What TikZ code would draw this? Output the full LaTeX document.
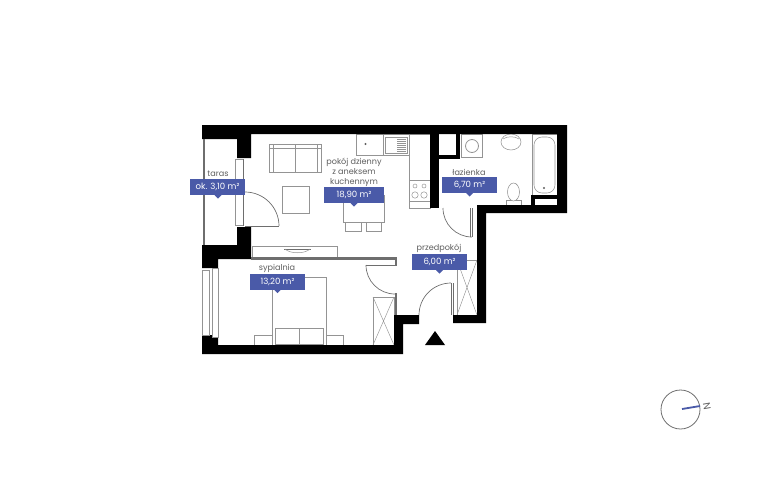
\documentclass[tikz,border=0pt]{standalone}
\usepackage{fontspec}
\setmainfont{Poppins}
\usepackage{tikz}
\usetikzlibrary{positioning}
\definecolor{tagblue}{HTML}{4A5AA8}
\definecolor{linegray}{HTML}{949494}
\definecolor{wallgray}{HTML}{6E6E6E}
\definecolor{textgray}{HTML}{5E5E5E}
\begin{document}
\begin{tikzpicture}[x=1pt,y=-1pt,
  wall/.style={fill=black,draw=none},
  thinwall/.style={fill=wallgray,draw=none},
  furn/.style={draw=linegray,line width=0.55pt,fill=white},
  door/.style={draw=wallgray,line width=0.7pt},
  room/.style={text=textgray,font=\fontsize{8.1}{10}\selectfont,inner sep=0pt,align=center},
  tag/.style={fill=tagblue,text=white,font=\fontsize{8.6}{10}\selectfont,minimum width=55pt,minimum height=16pt,inner sep=0pt},
  tip/.style={fill=tagblue,draw=none}]
  \useasboundingbox (0,0) rectangle (768,480);
  % furniture
  \draw[furn] (269,144) rectangle (321,172);
  \draw[furn] (269,148) -- (321,148) (273,144) -- (273,172) (317,144) -- (317,172) (295,144) -- (295,172);
  \draw[furn] (282,186) rectangle (309,213);
  \draw[furn] (343,195) rectangle (384,222);
  \draw[furn] (345,222) rectangle (361,231);
  \draw[furn] (366,222) rectangle (381,231);
  \draw[furn] (356,134) rectangle (409,155);
  \fill[textgray] (365.5,144) circle (1.2);
  \draw[furn] (383,134) -- (383,155);
  \draw[furn] (385,137) rectangle (407,153);
  \foreach \ypos in {139,141,143,145,147,149,151}
    \draw[linegray,line width=0.4pt] (397,\ypos) -- (406,\ypos);
  \draw[furn] (409,134) rectangle (430,208);
  \draw[furn] (409,180) -- (430,180) (409,201) -- (430,201);
  \foreach \xpos/\ypos/\rad in {415/186/2,424/186/2,415/195/3.2,424/195/3.2}
    \draw[linegray,line width=0.5pt] (\xpos,\ypos) circle (\rad);
  \draw[furn] (252,246) rectangle (337,257);
  \draw[wallgray,line width=0.8pt] (284,249) -- (311,249);
  \draw[linegray,line width=0.5pt] (285,249) .. controls (290,254) and (305,254) .. (310,249);
  % bedroom
  \draw[furn] (272,277) rectangle (326,345);
  \draw[furn] (275,328) rectangle (323,344);
  \draw[furn] (299,328) -- (299,344);
  \draw[furn] (254,335) rectangle (272,345);
  \draw[furn] (326,335) rectangle (343,345);
  \draw[furn] (373,297) rectangle (394,345);
  \draw[linegray,line width=0.45pt] (373,297) -- (394,345) (394,297) -- (373,345);
  \draw[furn] (457,260) rectangle (477,315);
  \draw[linegray,line width=0.45pt] (457,260) -- (477,315) (477,260) -- (457,315);
  % bathroom
  \draw[furn] (461,134) rectangle (482,157);
  \draw[linegray,line width=0.8pt] (472,146) circle (6.5);
  \draw[furn] (511,142) ellipse (10 and 8);
  \draw[linegray,line width=0.5pt] (503,139) .. controls (507,136) and (515,136) .. (519,139);
  \draw[furn] (532,134) rectangle (557,196);
  \draw[furn,rounded corners=8pt] (534,137) rectangle (555,193);
  \fill[textgray] (544,188) circle (1.1);
  \draw[furn] (506,200) rectangle (521,205);
  \draw[furn] (513.5,192) ellipse (6 and 9);
  % walls
  \fill[wall] (202,125) -- (567,125) -- (567,213) -- (486,213) -- (486,323) -- (453,323) -- (453,315) -- (477,315)
    -- (477,205) -- (557,205) -- (557,134) -- (251,134) -- (251,158) -- (237,158) -- (237,139) -- (202,139) -- cycle;
  \fill[wall] (430,134) rectangle (439,208);
  \fill[wall] (439,155) rectangle (460,159);
  \fill[wall] (456,134) rectangle (460,155);
  \fill[wall] (531,195) rectangle (557,199);
  \fill[wall] (531,199) rectangle (535,205);
  \fill[wall] (237,227) -- (251,227) -- (251,259) -- (218,259) -- (218,268) -- (202,268) -- (202,245) -- (237,245) -- cycle;
  \fill[wall] (202,335) -- (218,335) -- (218,345) -- (394,345) -- (394,315) -- (419,315) -- (419,324) -- (403,324)
    -- (403,354) -- (202,354) -- cycle;
  \fill[thinwall] (251,257) rectangle (397,259.5);
  \fill[thinwall] (395,257) rectangle (397,265);
  \fill[thinwall] (394.5,293) rectangle (397,315);
  \fill[thinwall] (203,139) rectangle (205,245);
  % windows
  \draw[furn] (235.5,159) rectangle (243,225);
  \draw[wallgray,line width=1pt] (243.5,159) -- (243.5,226);
  \draw[furn] (202.5,270) rectangle (209,335);
  \draw[furn] (212,268) rectangle (218,337);
  % doors
  \draw[door] (245,226) -- (279,226);
  \draw[door] (245,192) arc[start angle=-90,end angle=0,radius=34];
  \draw[door] (443,208) arc[start angle=180,end angle=90,radius=29];
  \draw[door] (472,208) -- (472,237);
  \draw[door] (470.5,208) -- (470.5,237);
  \draw[door] (366,265) arc[start angle=180,end angle=90,radius=29];
  \draw[door] (366,265) -- (397,265);
  \draw[door] (419,315) arc[start angle=180,end angle=270,radius=32];
  \draw[door] (451,283) -- (451,315);
  \draw[door] (453,283) -- (453,315);
  % labels
  \node[room] (taras) at (218,174) {taras};
  \node[tag] (tagtaras) at (217.5,187) {ok. 3,10 m²};
  \fill[tip] (214.5,195) -- (221.5,195) -- (218,198.5) -- cycle;
  \node[room] (pokoj) at (354,172) {pokój dzienny\\z aneksem\\kuchennym};
  \node[tag,minimum width=60pt] (tagpokoj) at (354,195) {18,90 m²};
  \fill[tip] (350.5,203) -- (357.5,203) -- (354,206.5) -- cycle;
  \node[room] (lazienka) at (469,172) {łazienka};
  \node[tag] (taglazienka) at (469.5,185) {6,70 m²};
  \fill[tip] (466,193) -- (473,193) -- (469.5,196.5) -- cycle;
  \node[room] (sypialnia) at (277,268) {sypialnia};
  \node[tag] (tagsypialnia) at (277.5,282) {13,20 m²};
  \fill[tip] (274,289.5) -- (281,289.5) -- (277.5,293) -- cycle;
  \node[room] (przedpokoj) at (439,248) {przedpokój};
  \node[tag] (tagprzedpokoj) at (439.5,262) {6,00 m²};
  \fill[tip] (436,270) -- (443,270) -- (439.5,273.5) -- cycle;
  % entrance mark
  \fill[black] (435,331) -- (445,345) -- (425,345) -- cycle;
  % north mark
  \draw[wallgray,line width=0.8pt] (680.5,409.5) circle (19.5);
  \draw[tagblue,line width=1.8pt] (682,409) -- (700,406);
  \node[text=textgray,font=\fontsize{10}{10}\selectfont,rotate=-80,inner sep=0pt] (north) at (707,406) {N};
\end{tikzpicture}
\end{document}
